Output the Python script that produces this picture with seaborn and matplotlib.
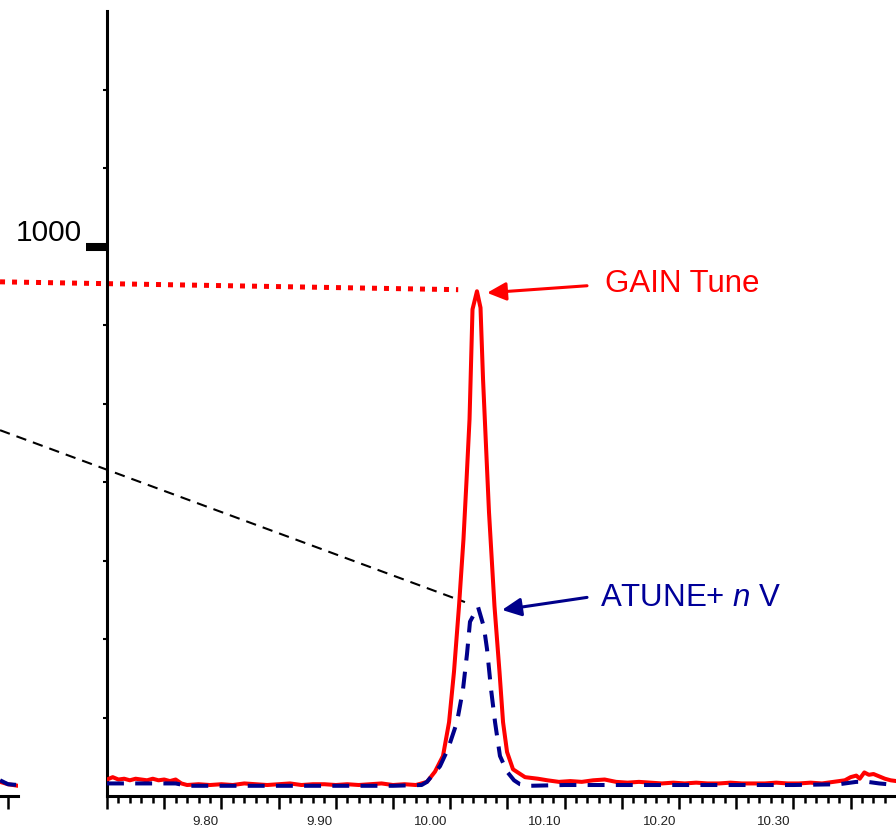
import matplotlib
matplotlib.use("Agg")
import matplotlib.pyplot as plt
import matplotlib.transforms as mtransforms
from matplotlib.ticker import MultipleLocator, FixedLocator
import pandas as pd
import seaborn as sns

# ---------------- data ----------------
red_time = [9.700, 9.705, 9.710, 9.715, 9.720, 9.725, 9.730, 9.735, 9.740, 9.745,
            9.750, 9.755, 9.760, 9.765, 9.770, 9.780, 9.790, 9.800, 9.810, 9.820,
            9.830, 9.840, 9.850, 9.860, 9.870, 9.880, 9.890, 9.900, 9.910, 9.920,
            9.930, 9.940, 9.950, 9.960, 9.970, 9.975, 9.9797, 9.9867, 9.9937, 9.9990,
            10.0033, 10.0077, 10.0116, 10.0142, 10.0169, 10.0195, 10.0234, 10.0265,
            10.0287, 10.0313, 10.0339, 10.0387, 10.0431, 10.0462, 10.0497, 10.0549,
            10.0654, 10.0767, 10.085, 10.095, 10.105, 10.115, 10.125, 10.135, 10.145,
            10.155, 10.165, 10.175, 10.185, 10.195, 10.205, 10.215, 10.225, 10.235,
            10.245, 10.255, 10.265, 10.275, 10.285, 10.295, 10.305, 10.315, 10.325,
            10.335, 10.345, 10.350, 10.355, 10.358, 10.362, 10.366, 10.370, 10.375,
            10.380, 10.385, 10.390]
red_signal = [321, 324, 321, 322, 320, 322, 321, 320, 322, 320,
              321, 319, 321, 316, 314, 315, 314, 315, 314, 316,
              315, 314, 315, 316, 314, 315, 315, 314, 315, 314,
              315, 316, 314, 315, 314, 316, 318, 331, 351, 394,
              458, 542, 627, 700, 780, 920, 943, 922,
              831, 746, 662, 542, 458, 394, 356, 334,
              324, 322, 320, 318, 319, 318, 320, 321, 318,
              317, 318, 317, 316, 317, 316, 317, 316, 316,
              317, 316, 316, 316, 317, 316, 316, 317, 316,
              318, 320, 324, 326, 322, 330, 327, 328, 325,
              322, 320, 319]

blue_time = [9.700, 9.760, 9.770, 9.800, 9.850, 9.900, 9.950, 9.975, 9.9797, 9.9911,
             9.9981, 10.0059, 10.0112, 10.0147, 10.0173, 10.0243, 10.0295, 10.0322,
             10.0357, 10.0392, 10.0435, 10.0497, 10.0558, 10.0610, 10.0698, 10.100,
             10.150, 10.200, 10.250, 10.300, 10.340, 10.355, 10.365, 10.375, 10.390]
blue_signal = [316, 316, 313, 313, 313, 313, 313, 314, 318, 338,
               360, 394, 436, 481, 522, 541, 515, 487,
               436, 394, 351, 331, 320, 315, 313, 314,
               314, 314, 314, 314, 315, 318, 318, 316, 314]

# trace remnants of the neighbouring (left) panel
left_time = [10.3731, 10.3800, 10.3887]
left_red = [318, 315, 313]
left_blue = [320, 315, 314]

# guide lines coming from the neighbouring panel's peak heights
gain_guide_time = [9.6065, 10.0070]
gain_guide_level = [955, 945]
atune_guide_time = [9.6065, 10.0129]
atune_guide_level = [766, 547]

x_tick_values = [9.80, 9.90, 10.00, 10.10, 10.20, 10.30]
x_tick_labels = ["9.80", "9.90", "10.00", "10.10", "10.20", "10.30"]
y_major_value = 1000
y_major_label = "1000"
y_minor_values = [400, 500, 600, 700, 800, 900, 1100, 1200]

gain_label = "GAIN Tune"
atune_label = "ATUNE+ $n$ V"
gain_arrow_tip = (10.0322, 941)
gain_arrow_tail = (10.1196, 950)
gain_text_pos = (10.1353, 953)
atune_arrow_tip = (10.0453, 537)
atune_arrow_tail = (10.1196, 553)
atune_text_pos = (10.1309, 553)

# ---------------- styling ----------------
sns.set_theme(style="white")
plt.rcParams["font.family"] = ["Liberation Sans", "DejaVu Sans"]
plt.rcParams["mathtext.fontset"] = "custom"
plt.rcParams["mathtext.rm"] = "Liberation Sans"
plt.rcParams["mathtext.it"] = "Liberation Sans:italic"

RED = "#ff0000"
NAVY = "#00008b"
TEXT_BLUE = "#000099"

W, H = 896, 828
fig = plt.figure(figsize=(W / 100, H / 100), dpi=100)
fig.patch.set_facecolor("white")

ax_l, ax_b, ax_t = 107, 797, 12
px_per_unit = 1144.0
xmin = 9.70
xmax = xmin + (W - ax_l) / px_per_unit
ax = fig.add_axes([ax_l / W, (H - ax_b) / H, (W - ax_l) / W, (ax_b - ax_t) / H])
ax.set_facecolor("none")

red_df = pd.DataFrame({"time": red_time, "signal": red_signal})
blue_df = pd.DataFrame({"time": blue_time, "signal": blue_signal})

sns.lineplot(data=red_df, x="time", y="signal", ax=ax, color=RED, linewidth=2.9,
             estimator=None, sort=False, zorder=3)
sns.lineplot(data=blue_df, x="time", y="signal", ax=ax, color=NAVY, linewidth=2.9,
             estimator=None, sort=False, linestyle=(0, (4.2, 2.8)), zorder=4)

# guide lines (extend to the left of the axis)
ax.plot(gain_guide_time, gain_guide_level, color=RED, linewidth=3.6,
        linestyle=(0, (1.0, 1.4)), clip_on=False, zorder=2, dash_capstyle="butt")
ax.plot(atune_guide_time, atune_guide_level, color="black", linewidth=1.5,
        linestyle=(0, (5.0, 3.4)), clip_on=False, zorder=2)

ax.set_xlabel("")
ax.set_ylabel("")

for s in ["top", "right"]:
    ax.spines[s].set_visible(False)
for s in ["left", "bottom"]:
    ax.spines[s].set_linewidth(2.2)
    ax.spines[s].set_color("black")

# x ticks
major_x = [9.70, 9.75, 9.80, 9.85, 9.90, 9.95, 10.00, 10.05, 10.10, 10.15,
           10.20, 10.25, 10.30, 10.35]
lab = []
for v in major_x:
    match = [l for t, l in zip(x_tick_values, x_tick_labels) if abs(t - v) < 1e-6]
    lab.append(match[0] if match else "")
ax.set_xticks(major_x, labels=lab)
ax.xaxis.set_minor_locator(MultipleLocator(0.01))
ax.tick_params(axis="x", which="both", bottom=True, top=False)
ax.tick_params(axis="x", which="major", direction="out", length=9.4, width=1.8,
               color="black", labelsize=9.6, labelcolor="#222222", pad=4)
ax.tick_params(axis="x", which="minor", direction="out", length=5, width=1.8,
               color="black")
off = mtransforms.ScaledTranslation(-3 / 100, 0, fig.dpi_scale_trans)
for t in ax.get_xticklabels():
    t.set_horizontalalignment("right")
    t.set_transform(t.get_transform() + off)

# y ticks
ax.set_yticks([y_major_value], labels=[y_major_label])
ax.yaxis.set_minor_locator(FixedLocator(y_minor_values))
ax.tick_params(axis="y", which="both", left=True, right=False)
ax.tick_params(axis="y", which="major", direction="out", length=15, width=5.8,
               color="black", labelsize=21.5, labelcolor="black", pad=3)
ax.tick_params(axis="y", which="minor", direction="out", length=3, width=1.5,
               color="black")
for t in ax.get_yticklabels():
    t.set_verticalalignment("bottom")

ax.set_xlim(xmin, xmax)
ax.set_ylim(300, 1300)

# annotations
ax.annotate("", xy=gain_arrow_tip, xytext=gain_arrow_tail, xycoords="data",
            arrowprops=dict(arrowstyle="-|>,head_length=1.15,head_width=0.55",
                            mutation_scale=10, color=RED, lw=2.2,
                            shrinkA=0, shrinkB=0), zorder=5)
ax.text(gain_text_pos[0], gain_text_pos[1], gain_label, color=RED, fontsize=22.5,
        ha="left", va="center")
ax.annotate("", xy=atune_arrow_tip, xytext=atune_arrow_tail, xycoords="data",
            arrowprops=dict(arrowstyle="-|>,head_length=1.15,head_width=0.55",
                            mutation_scale=10, color=NAVY, lw=2.2,
                            shrinkA=0, shrinkB=0), zorder=5)
ax.text(atune_text_pos[0], atune_text_pos[1], atune_label, color=TEXT_BLUE,
        fontsize=22.5, ha="left", va="center")

# neighbouring panel remnant at the far left
l_right_px = 18
l_width_px = 1018
ax0 = fig.add_axes([(l_right_px - l_width_px) / W, (H - ax_b) / H, l_width_px / W,
                    (ax_b - ax_t) / H])
ax0.set_facecolor("none")
sns.lineplot(x=left_time, y=left_red, ax=ax0, color=RED, linewidth=2.9,
             estimator=None, sort=False)
sns.lineplot(x=left_time, y=left_blue, ax=ax0, color=NAVY, linewidth=2.9,
             estimator=None, sort=False, linestyle=(0, (4.2, 2.8)))
for s in ["top", "right", "left"]:
    ax0.spines[s].set_visible(False)
ax0.spines["bottom"].set_linewidth(2.2)
ax0.spines["bottom"].set_color("black")
ax0.set_xticks([10.38], labels=[""])
ax0.set_yticks([])
ax0.tick_params(axis="x", which="major", bottom=True, direction="out", length=9.4,
                width=1.8, color="black")
ax0.set_xlabel("")
ax0.set_ylabel("")
lr = 10.38 + 10 / px_per_unit
ax0.set_xlim(lr - l_width_px / px_per_unit, lr)
ax0.set_ylim(300, 1300)

fig.savefig("out.png", dpi=100, facecolor="white")
